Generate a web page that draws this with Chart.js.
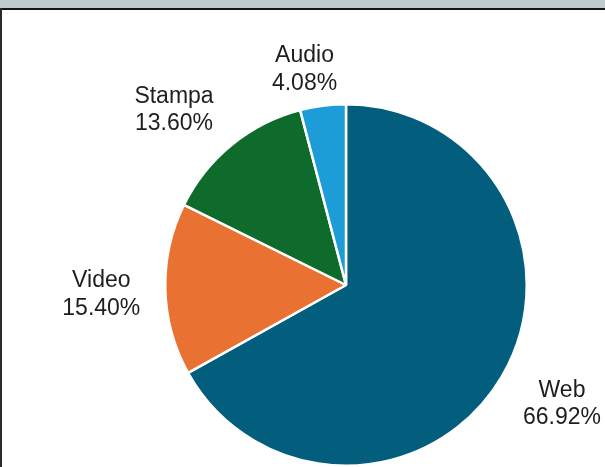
<!DOCTYPE html>
<html>
<head>
<meta charset="utf-8">
<script src="https://cdn.jsdelivr.net/npm/chart.js@4/dist/chart.umd.min.js"></script>
<style>
  html, body { margin: 0; padding: 0; background: #ffffff; }
  #frame { position: relative; width: 605px; height: 467px; overflow: hidden; background: #ffffff; }
  #topbar { position: absolute; left: 0; top: 0; width: 605px; height: 8px; background: #bfcacd; }
  #topline { position: absolute; left: 0; top: 8px; width: 605px; height: 2px; background: #151515; }
  #leftline { position: absolute; left: 0; top: 8px; width: 2px; height: 459px; background: #2a2a2a; }
  #chart { position: absolute; left: 0; top: 0; }
</style>
</head>
<body>
<div id="frame">
  <div id="topbar"></div>
  <div id="topline"></div>
  <div id="leftline"></div>
  <canvas id="chart" width="605" height="467"></canvas>
</div>
<script>
// Share of each channel (percent)
const categories = ['Web', 'Video', 'Stampa', 'Audio'];
const shares = [66.92, 15.40, 13.60, 4.08];
const sliceColors = ['#035e7e', '#e97132', '#0e6b2c', '#1d9dd8'];

// Label placement tweaks (pixels) applied after the outside-end anchor
const labelNudge = [[5, -1], [0, 2], [-17, 4], [-11, 14]];

const outsideLabels = {
  id: 'outsideLabels',
  afterDatasetsDraw(chart) {
    const ctx = chart.ctx;
    const meta = chart.getDatasetMeta(0);
    const fontSize = 23;
    const lineH = 27.5;
    const gap = 25;
    ctx.save();
    ctx.font = fontSize + 'px "Liberation Sans", Arial, sans-serif';
    ctx.fillStyle = '#1e1e1e';
    ctx.textAlign = 'center';
    ctx.textBaseline = 'alphabetic';
    meta.data.forEach((arc, i) => {
      const lines = [chart.data.labels[i], shares[i].toFixed(2) + '%'];
      const w = Math.max(...lines.map(t => ctx.measureText(t).width));
      const h = lines.length * lineH;
      const mid = (arc.startAngle + arc.endAngle) / 2;
      const dx = Math.cos(mid), dy = Math.sin(mid);
      const r = arc.outerRadius + gap;
      const cx = arc.x + dx * r + dx * w / 2 + labelNudge[i][0];
      const cy = arc.y + dy * r + dy * h / 2 + labelNudge[i][1];
      lines.forEach((t, k) => {
        const midY = cy + (k - (lines.length - 1) / 2) * lineH;
        ctx.fillText(t, cx, midY + 0.358 * fontSize);
      });
    });
    ctx.restore();
  }
};

new Chart(document.getElementById('chart'), {
  type: 'pie',
  data: {
    labels: categories,
    datasets: [{
      data: shares,
      backgroundColor: sliceColors,
      borderColor: '#ffffff',
      borderWidth: 2.5
    }]
  },
  options: {
    responsive: false,
    animation: false,
    layout: { padding: { left: 164, right: 77, top: 103, bottom: 0 } },
    plugins: {
      legend: { display: false },
      tooltip: { enabled: false }
    }
  },
  plugins: [outsideLabels]
});
</script>
</body>
</html>
